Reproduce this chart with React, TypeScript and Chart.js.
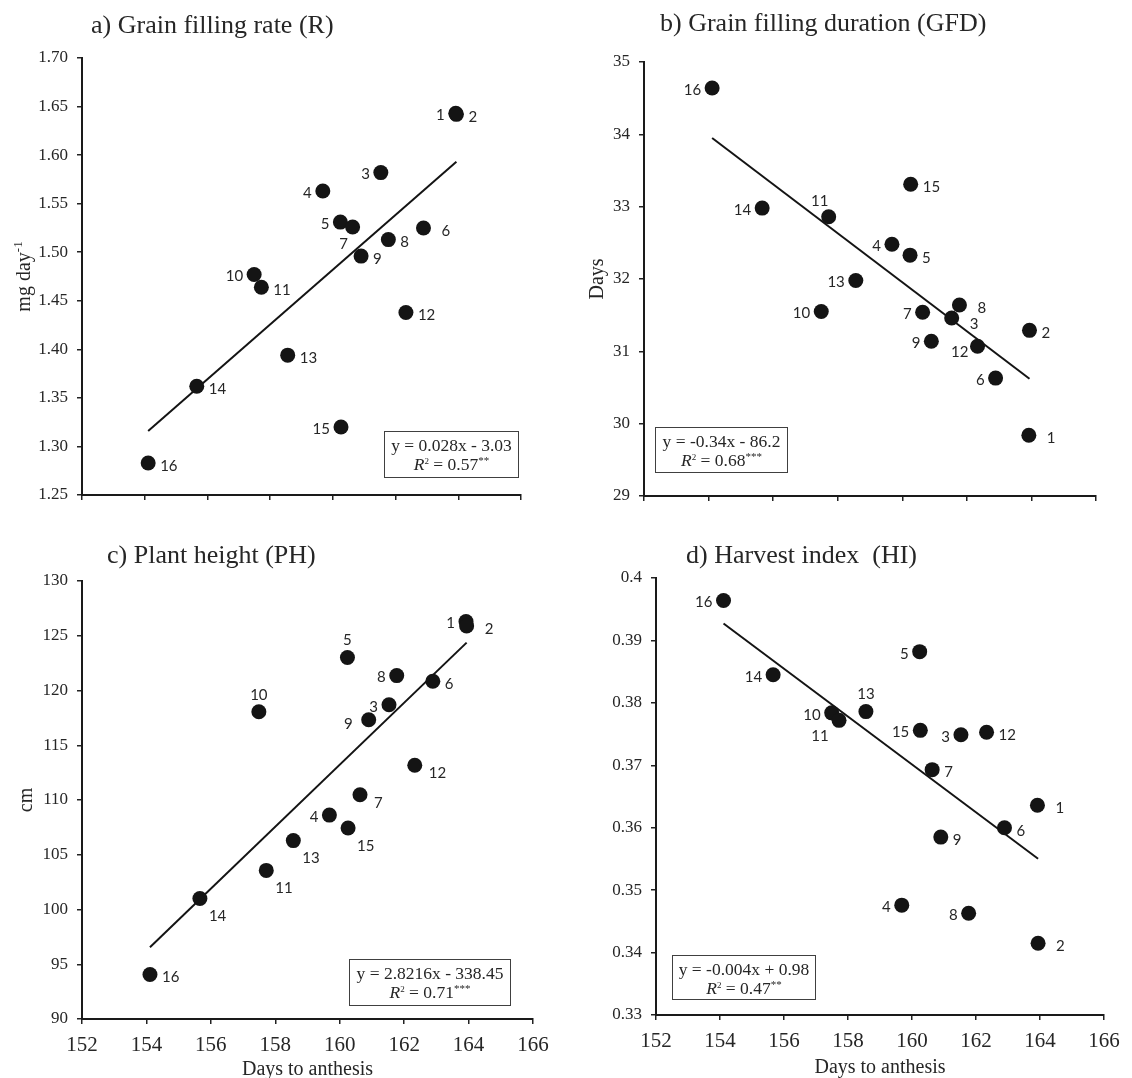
import React, { useEffect, useRef } from 'react';
import { Chart, registerables } from 'chart.js';

Chart.register(...registerables);

// ---------- data ----------
const genotypes = ['1', '2', '3', '4', '5', '6', '7', '8', '9', '10', '11', '12', '13', '14', '15', '16'];
const daysToAnthesis = [163.92, 163.94, 161.53, 159.68, 160.24, 162.89, 160.63, 161.77, 160.9, 157.49, 157.72, 162.33, 158.56, 155.66, 160.26, 154.11];
const grainFillingRate = [1.643, 1.642, 1.582, 1.563, 1.531, 1.525, 1.526, 1.513, 1.496, 1.477, 1.464, 1.438, 1.394, 1.362, 1.32, 1.283];
const grainFillingDuration = [29.84, 31.29, 31.46, 32.48, 32.33, 30.63, 31.54, 31.64, 31.14, 31.55, 32.86, 31.07, 31.98, 32.98, 33.31, 34.64];
const plantHeight = [126.29, 125.9, 118.7, 108.62, 123.02, 120.85, 110.48, 121.36, 117.33, 118.06, 103.57, 113.17, 106.29, 101.01, 107.44, 94.06];
const harvestIndex = [0.3636, 0.3415, 0.3749, 0.3476, 0.3882, 0.36, 0.3693, 0.3463, 0.3585, 0.3784, 0.3772, 0.3753, 0.3786, 0.3845, 0.3756, 0.3964];

const xTickRange = [152, 166, 2];
const titles = ['a) Grain filling rate (R)', 'b) Grain filling duration (GFD)', 'c) Plant height (PH)', 'd) Harvest index  (HI)'];
const equations = ['y = 0.028x - 3.03', 'y = -0.34x - 86.2', 'y = 2.8216x - 338.45', 'y = -0.004x + 0.98'];
const r2Values = ['0.57', '0.68', '0.71', '0.47'];
const r2Stars = ['**', '***', '***', '**'];

// label placement codes (per genotype, per panel)
const labelSidesA = ['l', 'r', 'l', 'l', 'l', 'rr', 'bl', 'r', 'r', 'l', 'r', 'r', 'r', 'r', 'l', 'r'];
const labelSidesB = ['rr', 'r', 'rrb', 'l', 'r', 'l', 'l', 'rr', 'l', 'l', 'tl', 'lb', 'l', 'l', 'r', 'l'];
const labelSidesC = ['l', 'rr', 'l', 'l', 't', 'r', 'rb', 'l', 'll', 't', 'br', 'rb', 'br', 'br', 'br', 'r'];
const labelSidesD = ['rr', 'rr', 'l', 'l', 'l', 'r', 'r', 'l', 'r', 'l', 'bll', 'r', 't', 'l', 'l', 'l'];

const SIDE: Record<string, [CanvasTextAlign, number, number]> = {
  l: ['right', -11, 2],
  ll: ['right', -16, 4],
  lb: ['right', -9, 6],
  r: ['left', 12, 3],
  rr: ['left', 18, 3],
  rb: ['left', 14, 8],
  rrb: ['left', 18, 6],
  t: ['center', 0, -17],
  tl: ['center', -9, -16],
  bl: ['center', -9, 17],
  bll: ['center', -19, 16],
  br: ['left', 9, 18],
};

const TEXT = '#262626';
const INK = '#141414';
const SERIF = '"Liberation Serif", "Times New Roman", serif';

function linReg(xs: number[], ys: number[]) {
  const n = xs.length;
  const mx = xs.reduce((a, b) => a + b, 0) / n;
  const my = ys.reduce((a, b) => a + b, 0) / n;
  let sxy = 0, sxx = 0;
  for (let i = 0; i < n; i++) {
    sxy += (xs[i] - mx) * (ys[i] - my);
    sxx += (xs[i] - mx) * (xs[i] - mx);
  }
  const m = sxy / sxx;
  return { m, b: my - m * mx };
}

type Seg = { text: string; font: string; dy?: number };
function drawRich(ctx: CanvasRenderingContext2D, segs: Seg[], cx: number, baseY: number) {
  let total = 0;
  for (const s of segs) { ctx.font = s.font; total += ctx.measureText(s.text).width; }
  let x = cx - total / 2;
  ctx.textAlign = 'left';
  ctx.textBaseline = 'alphabetic';
  for (const s of segs) {
    ctx.font = s.font;
    ctx.fillText(s.text, x, baseY + (s.dy || 0));
    x += ctx.measureText(s.text).width;
  }
}

const decorPlugin = {
  id: 'decor',
  afterDatasetsDraw(chart: any, _args: any, o: any) {
    const ctx: CanvasRenderingContext2D = chart.ctx;
    const ca = chart.chartArea;
    const xs = chart.scales.x, ys = chart.scales.y;
    ctx.save();
    ctx.fillStyle = TEXT;

    // panel title
    ctx.font = `26px ${SERIF}`;
    ctx.textAlign = 'left';
    ctx.textBaseline = 'middle';
    ctx.fillText(o.title, o.titleX, o.titleY);

    // y-axis title
    if (o.yTitle) {
      ctx.save();
      ctx.translate(o.yTitleX, (ca.top + ca.bottom) / 2);
      ctx.rotate(-Math.PI / 2);
      const segs: Seg[] = [{ text: o.yTitle, font: `20px ${SERIF}` }];
      if (o.yTitleSup) segs.push({ text: o.yTitleSup, font: `13px ${SERIF}`, dy: -8 });
      drawRich(ctx, segs, 0, 7);
      ctx.restore();
    }

    // x-axis title
    if (o.xTitle) {
      ctx.font = `20px ${SERIF}`;
      ctx.textAlign = 'center';
      ctx.textBaseline = 'middle';
      ctx.fillText(o.xTitle, (ca.left + ca.right) / 2, o.xTitleY);
    }

    // point labels
    const meta = chart.getDatasetMeta(0);
    ctx.font = '15px Lato, "Open Sans", sans-serif';
    ctx.textBaseline = 'middle';
    meta.data.forEach((pt: any, i: number) => {
      const s = SIDE[o.sides[i]] || SIDE.r;
      ctx.textAlign = s[0];
      ctx.fillText(genotypes[i], pt.x + s[1], pt.y + s[2]);
    });

    // equation box
    const [bx0, bx1, by0, by1] = o.eqBox;
    const left = Math.round(xs.getPixelForValue(bx0)) + 0.5;
    const right = Math.round(xs.getPixelForValue(bx1)) + 0.5;
    const top = Math.round(ys.getPixelForValue(by0)) + 0.5;
    const bottom = Math.round(ys.getPixelForValue(by1)) + 0.5;
    ctx.fillStyle = '#ffffff';
    ctx.fillRect(left, top, right - left, bottom - top);
    ctx.strokeStyle = '#404040';
    ctx.lineWidth = 1;
    ctx.strokeRect(left, top, right - left, bottom - top);
    ctx.fillStyle = TEXT;
    const cx = (left + right) / 2;
    drawRich(ctx, [{ text: o.equation, font: `17.5px ${SERIF}` }], cx, top + 19);
    drawRich(ctx, [
      { text: 'R', font: `italic 17.5px ${SERIF}` },
      { text: '2', font: `9px ${SERIF}`, dy: -6 },
      { text: ' = ' + o.r2, font: `17.5px ${SERIF}` },
      { text: o.stars, font: `11px ${SERIF}`, dy: -6 },
    ], cx, top + 38);

    ctx.restore();
  },
};

type Panel = {
  values: number[];
  sides: string[];
  idx: number;
  pos: { left: number; top: number; w: number; h: number };
  padTop: number; padRight: number; yAxisW: number; xAxisH: number;
  yMin: number; yMax: number; yStep: number; yFmt: (v: number) => string;
  showX: boolean;
  titleX: number; titleY: number;
  yTitle?: string; yTitleSup?: string; yTitleX?: number;
  xTitle?: string; xTitleY?: number;
  eqBox: number[];
};

const panels: Panel[] = [
  {
    values: grainFillingRate, sides: labelSidesA, idx: 0,
    pos: { left: 0, top: 0, w: 566, h: 530 },
    padTop: 58, padRight: 45, yAxisW: 82, xAxisH: 35,
    yMin: 1.25, yMax: 1.7, yStep: 0.05, yFmt: (v) => v.toFixed(2),
    showX: false, titleX: 91, titleY: 26,
    yTitle: 'mg day', yTitleSup: '-1', yTitleX: 23,
    eqBox: [161.64, 165.91, 1.316, 1.269],
  },
  {
    values: grainFillingDuration, sides: labelSidesB, idx: 1,
    pos: { left: 566, top: 0, w: 566, h: 530 },
    padTop: 62, padRight: 36, yAxisW: 78, xAxisH: 34,
    yMin: 29, yMax: 35, yStep: 1, yFmt: (v) => String(Math.round(v)),
    showX: false, titleX: 94, titleY: 24,
    yTitle: 'Days', yTitleX: 30,
    eqBox: [152.34, 156.43, 29.95, 29.33],
  },
  {
    values: plantHeight, sides: labelSidesC, idx: 2,
    pos: { left: 0, top: 530, w: 566, h: 548 },
    padTop: 51, padRight: 33, yAxisW: 82, xAxisH: 59,
    yMin: 90, yMax: 130, yStep: 5, yFmt: (v) => String(Math.round(v)),
    showX: true, titleX: 107, titleY: 26,
    yTitle: 'cm', yTitleX: 25,
    xTitle: 'Days to anthesis', xTitleY: 540,
    eqBox: [160.3, 165.3, 95.5, 91.28],
  },
  {
    values: harvestIndex, sides: labelSidesD, idx: 3,
    pos: { left: 566, top: 530, w: 566, h: 548 },
    padTop: 48, padRight: 28, yAxisW: 90, xAxisH: 63,
    yMin: 0.33, yMax: 0.4, yStep: 0.01, yFmt: (v) => String(parseFloat(v.toFixed(2))),
    showX: true, titleX: 120, titleY: 26,
    xTitle: 'Days to anthesis', xTitleY: 538,
    eqBox: [152.5, 156.96, 0.33954, 0.33253],
  },
];

function PanelChart({ p }: { p: Panel }) {
  const ref = useRef<HTMLCanvasElement | null>(null);
  useEffect(() => {
    if (!ref.current) return;
    const reg = linReg(daysToAnthesis, p.values);
    const xMin = Math.min(...daysToAnthesis);
    const xMax = Math.max(...daysToAnthesis);
    const gridOpts = { display: true, drawOnChartArea: false, drawTicks: true, tickLength: 5, color: '#222', lineWidth: 1.5 };
    const borderOpts = { display: true, color: '#1a1a1a', width: 2 };
    const chart = new Chart(ref.current, {
      type: 'scatter',
      data: {
        datasets: [
          {
            type: 'scatter',
            data: daysToAnthesis.map((x, i) => ({ x, y: p.values[i] })),
            backgroundColor: INK,
            borderWidth: 0,
            pointRadius: 7.5,
            pointHoverRadius: 7.5,
          } as any,
          {
            type: 'line',
            data: [
              { x: xMin, y: reg.m * xMin + reg.b },
              { x: xMax, y: reg.m * xMax + reg.b },
            ],
            borderColor: INK,
            borderWidth: 2,
            pointRadius: 0,
            fill: false,
            tension: 0,
          } as any,
        ],
      },
      options: {
        animation: false,
        responsive: false,
        maintainAspectRatio: false,
        events: [],
        layout: { padding: { left: 0, top: p.padTop, right: p.padRight, bottom: 0 } },
        plugins: {
          legend: { display: false },
          tooltip: { enabled: false },
          decor: {
            title: titles[p.idx], titleX: p.titleX, titleY: p.titleY,
            yTitle: p.yTitle, yTitleSup: p.yTitleSup, yTitleX: p.yTitleX,
            xTitle: p.xTitle, xTitleY: p.xTitleY,
            sides: p.sides, eqBox: p.eqBox,
            equation: equations[p.idx], r2: r2Values[p.idx], stars: r2Stars[p.idx],
          },
        } as any,
        scales: {
          x: {
            type: 'linear',
            min: xTickRange[0],
            max: xTickRange[1],
            ticks: {
              stepSize: xTickRange[2],
              display: p.showX,
              autoSkip: false,
              maxRotation: 0,
              padding: 9,
              color: TEXT,
              font: { family: SERIF, size: 21 },
              callback: (v: any) => String(v),
            },
            grid: gridOpts,
            border: borderOpts,
            afterFit: (s: any) => { s.height = p.xAxisH; },
          },
          y: {
            type: 'linear',
            min: p.yMin,
            max: p.yMax,
            ticks: {
              stepSize: p.yStep,
              autoSkip: false,
              padding: 9,
              color: TEXT,
              font: { family: SERIF, size: 17 },
              callback: (v: any) => p.yFmt(Number(v)),
            },
            grid: gridOpts,
            border: borderOpts,
            afterFit: (s: any) => { s.width = p.yAxisW; },
          },
        },
      } as any,
      plugins: [decorPlugin as any],
    });
    return () => chart.destroy();
  }, [p]);
  return (
    <canvas
      ref={ref}
      width={p.pos.w}
      height={p.pos.h}
      style={{ position: 'absolute', left: p.pos.left, top: p.pos.top, width: p.pos.w, height: p.pos.h }}
    />
  );
}

export default function App() {
  return (
    <div style={{ position: 'absolute', left: 0, top: 0, width: 1132, height: 1078, background: '#fff', overflow: 'hidden' }}>
      {panels.map((p) => (
        <PanelChart key={p.idx} p={p} />
      ))}
    </div>
  );
}
